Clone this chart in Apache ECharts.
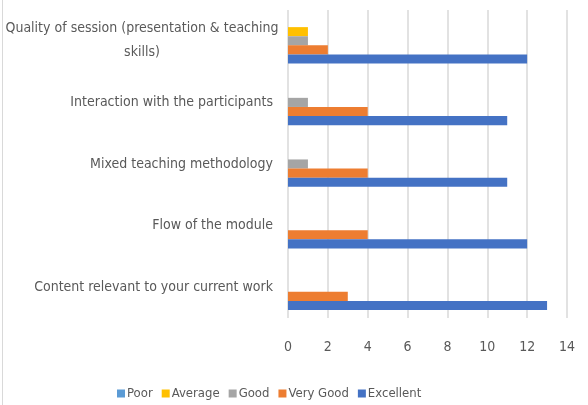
<!DOCTYPE html>
<html>
<head>
<meta charset="utf-8">
<script src="https://cdn.jsdelivr.net/npm/echarts@6/dist/echarts.min.js"></script>
<style>
  html, body { margin: 0; padding: 0; background: #fff; }
  #chart { width: 588px; height: 405px; }
</style>
</head>
<body>
<div id="chart"></div>
<script>
  // categories, bottom to top
  const categories = [
    'Content relevant to your current work',
    'Flow of the module',
    'Mixed teaching methodology',
    'Interaction with the participants',
    'Quality of session (presentation & teaching skills)'
  ]
  const poor = [0, 0, 0, 0, 0]
  const average = [0, 0, 0, 0, 1]
  const good = [0, 0, 1, 1, 1]
  const veryGood = [3, 4, 4, 4, 2]
  const excellent = [13, 12, 11, 11, 12]
  const xTicks = [0, 2, 4, 6, 8, 10, 12, 14]

  const font = "'Liberation Sans Narrow', 'Arial Narrow', 'DejaVu Sans Condensed', sans-serif"
  const myChart = echarts.init(document.getElementById('chart'))

  function bar (name, data, color) {
    return {
      name: name,
      type: 'bar',
      data: data,
      barGap: '0%',
      barCategoryGap: '26%',
      itemStyle: { color: color }
    }
  }

  let option = {
    animation: false,
    textStyle: { fontFamily: font },
    graphic: [{
      type: 'line',
      shape: { x1: 2.5, y1: 0, x2: 2.5, y2: 405 },
      style: { stroke: '#d9d9d9', lineWidth: 1 }
    }],
    legend: {
      data: ['Poor', 'Average', 'Good', 'Very Good', 'Excellent'],
      bottom: 0,
      left: 112,
      icon: 'rect',
      itemWidth: 8,
      itemHeight: 8,
      itemGap: 9,
      textStyle: { fontFamily: font, fontSize: 13, color: '#595959', padding: [0, 0, 0, -3] }
    },
    grid: {
      top: 10,
      right: 21,
      bottom: 87,
      left: 288
    },
    xAxis: {
      type: 'value',
      min: xTicks[0],
      max: xTicks[xTicks.length - 1],
      interval: 2,
      axisLine: { show: false },
      axisTick: { show: false },
      axisLabel: { fontFamily: font, fontSize: 14, color: '#595959', margin: 22 },
      splitLine: { lineStyle: { color: '#d9d9d9', width: 1.5 } }
    },
    yAxis: {
      type: 'category',
      data: categories,
      axisLine: { show: false },
      axisTick: { show: false },
      axisLabel: {
        fontFamily: font,
        fontSize: 14,
        color: '#595959',
        margin: 15,
        formatter: function (v) {
          if (v.indexOf('Quality') === 0) {
            return '{c|Quality of session (presentation & teaching}\n{c|skills)}'
          }
          return v
        },
        rich: {
          c: { width: 262, align: 'center', fontFamily: font, fontSize: 14, color: '#595959', lineHeight: 24 }
        }
      }
    },
    series: [
      bar('Poor', poor, '#5B9BD5'),
      bar('Average', average, '#FFC000'),
      bar('Good', good, '#A5A5A5'),
      bar('Very Good', veryGood, '#ED7D31'),
      bar('Excellent', excellent, '#4472C4')
    ]
  }
  myChart.setOption(option)
</script>
</body>
</html>
